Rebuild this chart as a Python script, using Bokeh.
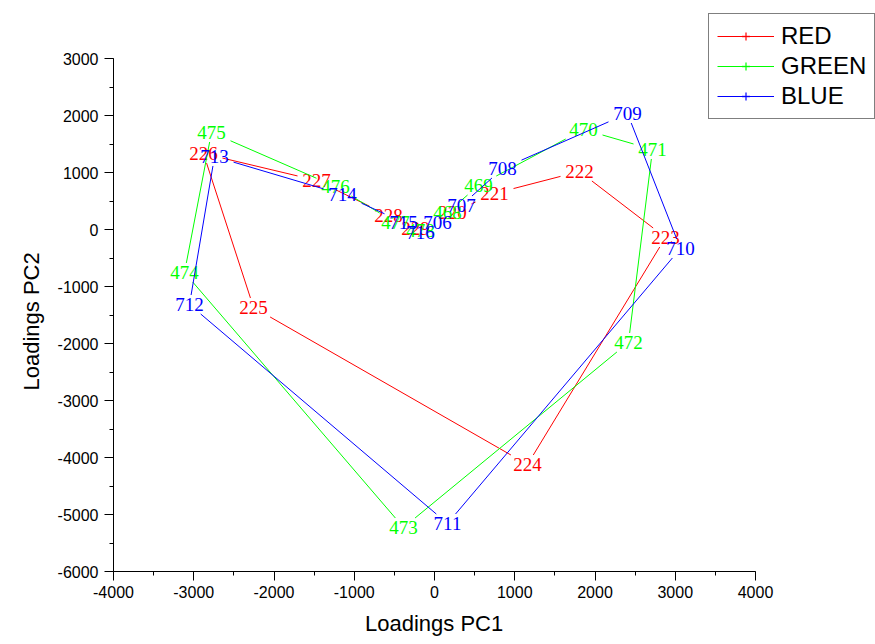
import numpy as np
from bokeh.plotting import figure
from bokeh.models import (Range1d, SingleIntervalTicker, PrintfTickFormatter,
                          Legend, LegendItem, Title)
from bokeh.core.properties import value
from bokeh.embed import file_html
from bokeh.resources import INLINE

# ---- data ----
red_labels = ["220", "221", "222", "223", "224", "225", "226", "227", "228", "229"]
red_x = [224, 748, 1807, 2879, 1159, -2255, -2879, -1470, -573, -237]
red_y = [298, 632, 1018, -140, -4123, -1368, 1333, 860, 246, 18]

green_labels = ["468", "469", "470", "471", "472", "473", "474", "475", "476", "477", "478"]
green_x = [162, 548, 1857, 2717, 2417, -386, -3115, -2779, -1234, -486, -174]
green_y = [298, 772, 1754, 1404, -1982, -5228, -754, 1702, 754, 123, -18]

blue_labels = ["706", "707", "708", "709", "710", "711", "712", "713", "714", "715", "716"]
blue_x = [37, 336, 847, 2405, 3065, 162, -3053, -2741, -1146, -386, -174]
blue_y = [123, 421, 1070, 2035, -333, -5158, -1316, 1281, 614, 123, -53]

series_names = ["RED", "GREEN", "BLUE"]
series_colors = ["#FF0000", "#00FF00", "#0000FF"]
x_title = "Loadings PC1"
y_title = "Loadings PC2"

X_START, X_END = -4000, 4000
Y_START, Y_END = -6000, 3000

# pixel layout
LEFT, BOTTOM = 113, 73
AX_W, AX_H = 642, 513               # pixels of the drawn axes
CANVAS_W, CANVAS_H = 875, 644
FRAME_W = CANVAS_W - LEFT
FRAME_H = CANVAS_H - BOTTOM
sx = AX_W / (X_END - X_START)
sy = AX_H / (Y_END - Y_START)
x_max = X_START + FRAME_W / sx
y_max = Y_START + FRAME_H / sy

p = figure(width=CANVAS_W, height=CANVAS_H,
           x_range=Range1d(X_START, x_max), y_range=Range1d(Y_START, y_max),
           output_backend="svg", toolbar_location=None,
           min_border_left=LEFT, min_border_right=0,
           min_border_top=0, min_border_bottom=BOTTOM)
p.background_fill_color = "white"
p.border_fill_color = "white"
p.outline_line_color = None
p.grid.visible = False

p.xaxis.bounds = (X_START, X_END)
p.yaxis.bounds = (Y_START, Y_END)

for ax in (p.xaxis[0], p.yaxis[0]):
    ax.ticker = SingleIntervalTicker(interval=1000, num_minor_ticks=2)
    ax.formatter = PrintfTickFormatter(format="%d")
    ax.axis_line_color = "black"
    ax.major_tick_line_color = "black"
    ax.minor_tick_line_color = "black"
    ax.major_tick_in = 0
    ax.major_tick_out = 9
    ax.minor_tick_in = 0
    ax.minor_tick_out = 4
    ax.major_label_text_font = "Liberation Sans"
    ax.major_label_text_font_size = "16px"
    ax.major_label_text_color = "black"
p.xaxis.major_label_standoff = 5
p.yaxis.major_label_standoff = 6

# axis titles, centred on the drawn axes (not on the wider frame)
TITLE_W = 139
tx = Title(text=x_title, align="left", offset=(AX_W / 2) - TITLE_W / 2,
           text_font="Liberation Sans", text_font_size="22px",
           text_font_style="normal", text_color="black", standoff=16)
p.add_layout(tx, "below")
ty = Title(text=y_title, align="left", offset=(AX_H / 2) - 151 / 2,
           text_font="Liberation Sans", text_font_size="22px",
           text_font_style="normal", text_color="black", standoff=22)
p.add_layout(ty, "left")


def gapped(xs, ys, hw=19.0, hh=9.5):
    x0, y0, x1, y1 = [], [], [], []
    for i in range(len(xs) - 1):
        dxp = (xs[i + 1] - xs[i]) * sx
        dyp = (ys[i + 1] - ys[i]) * sy
        adx = abs(dxp) if dxp != 0 else 1e-9
        ady = abs(dyp) if dyp != 0 else 1e-9
        t = min(hw / adx, hh / ady)
        if 2 * t >= 1:
            continue
        x0.append(xs[i] + t * (xs[i + 1] - xs[i]))
        y0.append(ys[i] + t * (ys[i + 1] - ys[i]))
        x1.append(xs[i + 1] - t * (xs[i + 1] - xs[i]))
        y1.append(ys[i + 1] - t * (ys[i + 1] - ys[i]))
    return x0, y0, x1, y1


items = []
for name, color, xs, ys, labs in zip(
        series_names, series_colors,
        [red_x, green_x, blue_x], [red_y, green_y, blue_y],
        [red_labels, green_labels, blue_labels]):
    x0, y0, x1, y1 = gapped(xs, ys)
    seg = p.segment(x0=x0, y0=y0, x1=x1, y1=y1, line_color=color, line_width=1)
    p.text(x=xs, y=ys, text=labs, text_font=value("Liberation Serif"),
           text_font_size="19px", text_align="center", text_baseline="middle",
           text_color=color)
    # legend-only tick mark (cross: its bar lies on the line), outside the view
    mark = p.scatter(x=[X_START - 5000], y=[Y_START - 5000], marker="cross",
                     size=8, line_color=color, line_width=1.5, line_alpha=0.8)
    items.append(LegendItem(label=name, renderers=[seg, mark]))

LEG_TOP, LEG_H = 12, 107
legend = Legend(items=items, location=(708 - LEFT, FRAME_H - LEG_TOP - LEG_H))
legend.border_line_color = "black"
legend.border_line_width = 1
legend.background_fill_color = "white"
legend.background_fill_alpha = 1
legend.label_text_font = "Liberation Sans"
legend.label_text_font_size = "24px"
legend.label_text_color = "black"
legend.glyph_width = 57
legend.glyph_height = 20
legend.label_height = 26
legend.label_standoff = 7
legend.spacing = 2
legend.padding = 8
legend.margin = 0
p.add_layout(legend, "center")

open("out.html", "w").write(file_html(p, INLINE))
